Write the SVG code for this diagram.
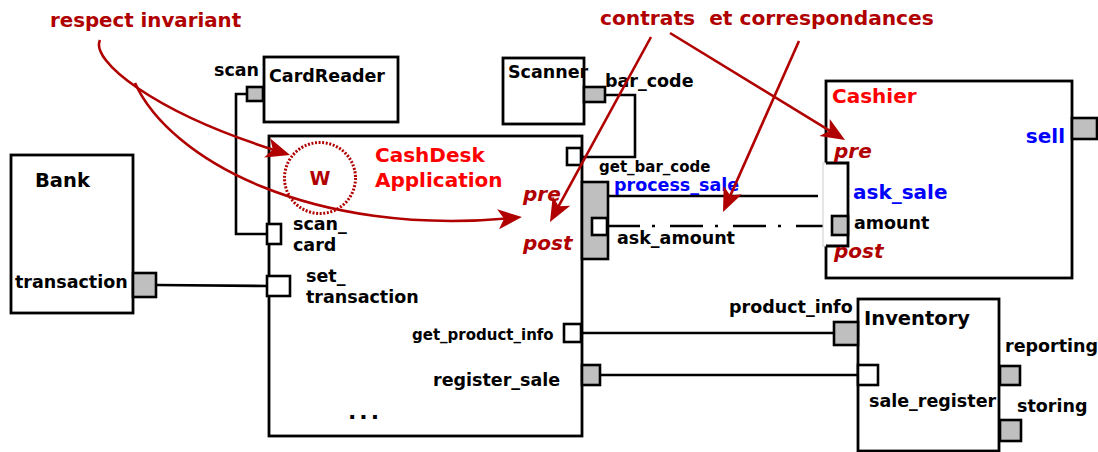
<svg xmlns="http://www.w3.org/2000/svg" width="1098" height="452" viewBox="0 0 1098 452">
<defs>
<style>
text{font-family:"DejaVu Sans","Liberation Sans",sans-serif;font-weight:bold;}
.box{fill:#fff;stroke:#000;stroke-width:2.8;}
.pg{fill:#bfbfbf;stroke:#000;stroke-width:2.6;}
.pw{fill:#fff;stroke:#000;stroke-width:2.6;}
.lbl{font-size:17.5px;fill:#000;}
.sm{font-size:15px;fill:#000;}
.title{font-size:20px;fill:#ff0000;}
.blue{fill:#0000ff;}
.note{font-size:19.8px;fill:#b00000;}
.cond{font-size:20px;fill:#b00000;font-style:italic;}
.conn{fill:none;stroke:#000;stroke-width:2.6;}
.ann{fill:none;stroke:#b00000;stroke-width:2.6;marker-end:url(#ah);}
</style>
<marker id="ah" markerUnits="userSpaceOnUse" viewBox="-26 -12 28 24" markerWidth="28" markerHeight="24" refX="-10" refY="0" orient="auto">
<path d="M0,0 L-24,-10 L-18,0 L-24,10 Z" fill="#b00000"/>
</marker>
</defs>
<rect width="1098" height="452" fill="#fff"/>

<g id="connectors">
<path class="conn" d="M156,285 L267,286"/>
<path class="conn" d="M247,94 H236 V234 H267"/>
<path class="conn" d="M605,95 H635 V157 H581"/>
<path class="conn" d="M609,196 H818"/>
<path class="conn" d="M607,226 H832" stroke-dasharray="33,12,3,15"/>
<path class="conn" d="M581,333 H833"/>
<path class="conn" d="M599,375 H858"/>
</g>

<g id="bank">
<rect class="box" x="11" y="155" width="122" height="158"/>
<text x="35" y="187" style="font-size:19.5px">Bank</text>
<text class="lbl" x="15" y="288">transaction</text>
<rect class="pg" x="133" y="273" width="23" height="24"/>
</g>

<g id="cardreader">
<rect class="box" x="264" y="57" width="134" height="65"/>
<text class="lbl" x="269" y="82">CardReader</text>
<text class="lbl" x="214" y="76">scan</text>
<rect class="pg" x="247" y="87" width="16" height="14"/>
</g>

<g id="scanner">
<rect class="box" x="503" y="58" width="81" height="66"/>
<text class="lbl" x="508" y="78" style="font-size:17.5px">Scanner</text>
<text class="lbl" x="605" y="87">bar_code</text>
<rect class="pg" x="584" y="87" width="21" height="15"/>
</g>

<g id="cashdesk">
<rect class="box" x="269" y="136" width="313" height="300"/>
<text class="title" x="375" y="162">CashDesk</text>
<text class="title" x="375" y="187">Application</text>
<g id="w">
<circle cx="320" cy="178" r="35.5" fill="none" stroke="#b00000" stroke-width="3" stroke-dasharray="2,1.6"/>
<text x="320" y="185" text-anchor="middle" style="font-size:19px;fill:#b00000">W</text>
</g>
<rect class="pw" x="267" y="224" width="14" height="20"/>
<text class="lbl" x="293" y="230">scan_</text>
<text class="lbl" x="293" y="251">card</text>
<rect class="pw" x="267" y="276" width="23" height="20"/>
<text class="lbl" x="306" y="282">set_</text>
<text class="lbl" x="306" y="303">transaction</text>
<rect class="pw" x="567" y="148" width="14" height="17"/>
<text class="sm" x="599" y="172">get_bar_code</text>
<rect class="pg" x="582" y="182" width="26" height="77"/>
<rect class="pw" x="592" y="218" width="15" height="17"/>
<text class="cond" x="523" y="201">pre</text>
<text class="cond" x="523" y="250">post</text>
<text class="lbl blue" x="614" y="191">process_sale</text>
<text class="lbl" x="617" y="244">ask_amount</text>
<rect class="pw" x="564" y="324" width="17" height="18"/>
<text class="sm" x="412" y="340">get_product_info</text>
<rect class="pg" x="582" y="365" width="18" height="20"/>
<text class="lbl" x="433" y="386">register_sale</text>
<text x="348" y="419" style="font-size:22px;letter-spacing:3px">...</text>
</g>

<g id="cashier">
<rect class="box" x="826" y="81" width="246" height="197"/>
<rect x="823" y="163" width="25" height="83" fill="#fff" stroke="#cccccc" stroke-width="1"/>
<polyline points="826,163 848,163 848,246 826,246" fill="none" stroke="#000" stroke-width="2.8"/>
<text class="title" x="832" y="103">Cashier</text>
<text class="lbl blue" x="1065" y="143" text-anchor="end" style="font-size:20px">sell</text>
<rect class="pg" x="1072" y="118" width="25" height="21"/>
<text class="cond" x="834" y="158">pre</text>
<text class="blue" x="853" y="199" style="font-size:20px">ask_sale</text>
<rect class="pg" x="832" y="216" width="16" height="19"/>
<text class="lbl" x="854" y="229">amount</text>
<text class="cond" x="834" y="258">post</text>
</g>

<g id="inventory">
<rect class="box" x="858" y="299" width="141" height="152"/>
<text x="864" y="325" style="font-size:19.5px">Inventory</text>
<text class="lbl" x="729" y="313">product_info</text>
<rect class="pg" x="834" y="322" width="24" height="23"/>
<rect class="pw" x="858" y="365" width="20" height="20"/>
<text class="lbl" x="869" y="407">sale_register</text>
<text class="lbl" x="1005" y="352">reporting</text>
<rect class="pg" x="1000" y="366" width="20" height="19"/>
<text class="lbl" x="1017" y="412">storing</text>
<rect class="pg" x="1000" y="420" width="21" height="21"/>
</g>

<g id="annotations">
<text class="note" x="50" y="27">respect invariant</text>
<text class="note" x="600" y="25" xml:space="preserve" style="font-size:20.2px">contrats  et correspondances</text>
<path class="ann" d="M100,40 C90,60 152,112 280.5,152"/>
<path class="ann" d="M135,83 C170,160 312,237 512,218"/>
<path class="ann" d="M651,37 L554.8,213.2"/>
<path class="ann" d="M670,33 L836.5,134.8"/>
<path class="ann" d="M799,41 L727.1,202.9"/>
</g>
</svg>
